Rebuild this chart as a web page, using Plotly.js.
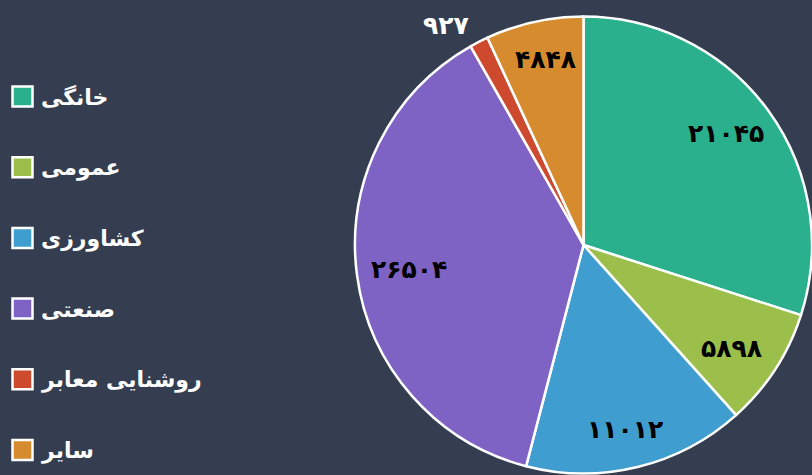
<!DOCTYPE html>
<html>
<head>
<meta charset="utf-8">
<script src="https://cdn.plot.ly/plotly-3.0.1.min.js"></script>
<style>html,body{margin:0;padding:0;background:#343e50;}#chart{width:812px;height:475px;}</style>
</head>
<body>
<div id="chart"></div>
<script>
const categories = ["خانگی", "عمومی", "کشاورزی", "صنعتی", "روشنایی معابر", "سایر"];
const values = [21045, 5898, 11012, 26504, 927, 4848];
const colors = ["#2bb08e", "#9bbf4a", "#3f9ecf", "#7e62c4", "#cd4a2e", "#d68c2e"];
const insideLabel = [true, true, true, true, false, true];

function toFa(n) {
  const d = "۰۱۲۳۴۵۶۷۸۹";
  return String(n).replace(/[0-9]/g, c => d[+c]);
}

const W = 812, H = 475;
const domX = [355 / W, 1], domY = [1.5 / H, 458.5 / H];

const trace = {
  type: "pie",
  labels: categories,
  values: values,
  textinfo: "none",
  sort: false,
  direction: "clockwise",
  rotation: 0,
  marker: {colors: colors, line: {color: "#ffffff", width: 2.5}},
  domain: {x: domX, y: domY},
  hoverinfo: "label+value",
  showlegend: false
};

const shapes = [];
const annotations = [];

// legend
const rowY0 = 96.5, rowStep = 70.7;
categories.forEach((c, i) => {
  const cy = rowY0 + i * rowStep;
  shapes.push({
    type: "rect", xref: "paper", yref: "paper",
    x0: 12.5 / W, x1: 32.5 / W, y0: 1 - (cy + 10) / H, y1: 1 - (cy - 10) / H,
    fillcolor: colors[i], line: {color: "#ffffff", width: 2.5}
  });
  annotations.push({
    xref: "paper", yref: "paper", x: 39 / W, y: 1 - (cy + 1) / H,
    xanchor: "left", yanchor: "middle", showarrow: false,
    text: c, font: {family: "DejaVu Sans", size: 22, weight: 700, color: "#ffffff"}
  });
});

// slice value labels, placed at each slice's mid-angle (derived from the values)
const total = values.reduce((a, b) => a + b, 0);
const cxPx = W * (domX[0] + domX[1]) / 2;
const cyPx = H * (1 - (domY[0] + domY[1]) / 2);
let acc = 0;
values.forEach((v, i) => {
  const mid = (acc + v / 2) / total * 2 * Math.PI;
  acc += v;
  const rx = insideLabel[i] ? 176 : 300;
  const ry = insideLabel[i] ? 190 : 247;
  const px = cxPx + Math.sin(mid) * rx;
  const py = cyPx - Math.cos(mid) * ry;
  annotations.push({
    xref: "paper", yref: "paper", x: px / W, y: 1 - py / H,
    xanchor: "center", yanchor: "middle", showarrow: false,
    text: toFa(v),
    font: {family: "DejaVu Sans", size: 25, weight: 700, color: insideLabel[i] ? "#000000" : "#ffffff"}
  });
});

const layout = {
  width: W, height: H,
  margin: {l: 0, r: 0, t: 0, b: 0},
  paper_bgcolor: "#343e50",
  plot_bgcolor: "#343e50",
  showlegend: false,
  shapes: shapes,
  annotations: annotations
};

Plotly.newPlot("chart", [trace], layout, {displayModeBar: false, staticPlot: true});
</script>
</body>
</html>
